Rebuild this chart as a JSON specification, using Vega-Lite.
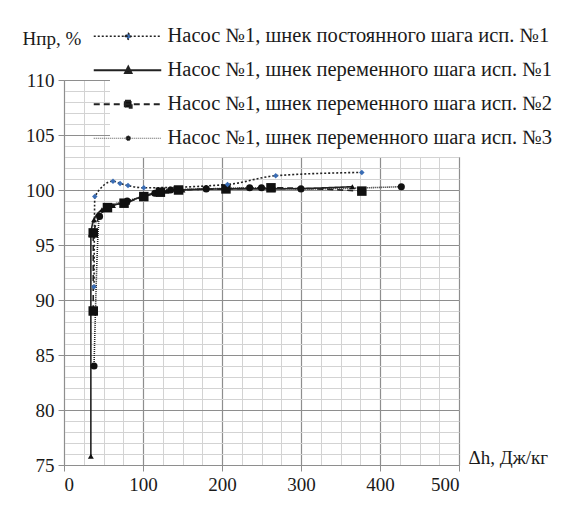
{
  "$schema": "https://vega.github.io/schema/vega-lite/v6.json",
  "autosize": {"type": "none"},
  "width": 395,
  "height": 385,
  "padding": {"left": 64, "top": 80, "right": 102, "bottom": 44},
  "background": "white",
  "config": {
    "view": {"stroke": null},
    "font": "Liberation Serif, DejaVu Serif, serif"
  },
  "data": {
    "values": [
      {"s": "A", "i": 1, "x": 38, "y": 91.2},
      {"s": "A", "i": 2, "x": 39, "y": 99.4},
      {"s": "A", "i": 3, "x": 62, "y": 100.8},
      {"s": "A", "i": 4, "x": 71, "y": 100.6},
      {"s": "A", "i": 5, "x": 81, "y": 100.4},
      {"s": "A", "i": 6, "x": 101, "y": 100.2},
      {"s": "A", "i": 7, "x": 207, "y": 100.5},
      {"s": "A", "i": 8, "x": 268, "y": 101.3},
      {"s": "A", "i": 9, "x": 377, "y": 101.6},
      {"s": "B", "i": 1, "x": 34, "y": 75.8},
      {"s": "B", "i": 2, "x": 34, "y": 96.0},
      {"s": "B", "i": 3, "x": 38, "y": 97.3},
      {"s": "B", "i": 4, "x": 48, "y": 98.2},
      {"s": "B", "i": 5, "x": 62, "y": 98.6},
      {"s": "B", "i": 6, "x": 80, "y": 98.9},
      {"s": "B", "i": 7, "x": 102, "y": 99.5},
      {"s": "B", "i": 8, "x": 130, "y": 99.9},
      {"s": "B", "i": 9, "x": 150, "y": 100.0},
      {"s": "B", "i": 10, "x": 205, "y": 100.1},
      {"s": "B", "i": 11, "x": 265, "y": 100.1},
      {"s": "B", "i": 12, "x": 365, "y": 100.3},
      {"s": "C", "i": 1, "x": 37, "y": 89.0},
      {"s": "C", "i": 2, "x": 37, "y": 96.1},
      {"s": "C", "i": 3, "x": 55, "y": 98.4},
      {"s": "C", "i": 4, "x": 76, "y": 98.8},
      {"s": "C", "i": 5, "x": 101, "y": 99.4},
      {"s": "C", "i": 6, "x": 122, "y": 99.8},
      {"s": "C", "i": 7, "x": 145, "y": 100.0},
      {"s": "C", "i": 8, "x": 205, "y": 100.1},
      {"s": "C", "i": 9, "x": 262, "y": 100.2},
      {"s": "C", "i": 10, "x": 377, "y": 99.9},
      {"s": "D", "i": 1, "x": 38, "y": 84.0},
      {"s": "D", "i": 2, "x": 45, "y": 97.6},
      {"s": "D", "i": 3, "x": 56, "y": 98.5},
      {"s": "D", "i": 4, "x": 80, "y": 99.0},
      {"s": "D", "i": 5, "x": 115, "y": 99.7},
      {"s": "D", "i": 6, "x": 135, "y": 100.0},
      {"s": "D", "i": 7, "x": 180, "y": 100.1},
      {"s": "D", "i": 8, "x": 235, "y": 100.2},
      {"s": "D", "i": 9, "x": 250, "y": 100.2},
      {"s": "D", "i": 10, "x": 300, "y": 100.1},
      {"s": "D", "i": 11, "x": 427, "y": 100.3}
    ]
  },
  "resolve": {"axis": {"x": "independent", "y": "independent"}},
  "layer": [
    {
      "mark": {"type": "line", "interpolate": "monotone", "color": "#222222", "strokeWidth": 1.6},
      "encoding": {
        "x": {
          "field": "x", "type": "quantitative",
          "scale": {"domain": [0, 500], "nice": false, "zero": false},
          "axis": {
            "orient": "bottom", "title": null, "labels": false, "ticks": false, "domain": false,
            "grid": true, "gridColor": "#d3d3d3", "gridWidth": 1,
            "values": [0,25,50,75,100,125,150,175,200,225,250,275,300,325,350,375,400,425,450,475,500]
          }
        },
        "y": {
          "field": "y", "type": "quantitative",
          "scale": {"domain": [75, 110], "nice": false, "zero": false},
          "axis": {
            "orient": "left", "title": null, "labels": false, "ticks": false, "domain": false,
            "grid": true, "gridColor": "#d3d3d3", "gridWidth": 1,
            "values": [75,76,77,78,79,80,81,82,83,84,85,86,87,88,89,90,91,92,93,94,95,96,97,98,99,100,101,102,103,104,105,106,107,108,109,110]
          }
        },
        "order": {"field": "i", "type": "quantitative"},
        "strokeDash": {
          "field": "s", "type": "nominal",
          "scale": {"domain": ["A", "B", "C", "D"], "range": [[2, 2], [1, 0], [6, 4], [1, 1]]},
          "legend": {
            "orient": "none",
            "legendX": 46,
            "legendY": -62,
            "title": null,
            "padding": 8,
            "fillColor": "white",
            "symbolType": "M-2.2,0H2.2",
            "symbolSize": 900,
            "symbolStrokeColor": "#222222",
            "symbolStrokeWidth": 1.5,
            "labelOffset": 29,
            "labelFont": "Liberation Serif, DejaVu Serif, serif",
            "labelFontSize": 20.5,
            "labelColor": "#1a1a1a",
            "labelLimit": 600,
            "rowPadding": 13,
            "labelExpr": "datum.value == 'A' ? 'Насос №1, шнек постоянного шага  исп. №1' : datum.value == 'B' ? 'Насос №1, шнек переменного шага  исп. №1' : datum.value == 'C' ? 'Насос №1, шнек переменного шага  исп. №2' : 'Насос №1, шнек переменного шага  исп. №3'",
            "encode": {
              "symbols": {
                "update": {
                  "shape": {"signal": "datum.value == 'A' ? 'M-2.3,0H2.2M-0.2,0L0,-0.2L0.2,0L0,0.2Z' : datum.value == 'B' ? 'M-2.3,0H2.2M-0.2,0.17L0,-0.22L0.2,0.17Z' : datum.value == 'C' ? 'M-2.3,0H2.2M-0.22,-0.22H0.22V0.22H-0.22Z' : 'M-2.3,0H2.2M-0.17,0L-0.12,-0.12L0,-0.17L0.12,-0.12L0.17,0L0.12,0.12L0,0.17L-0.12,0.12Z'"},
                  "fill": {"signal": "datum.value == 'A' ? '#3a6db5' : '#111111'"},
                  "fillOpacity": {"value": 1},
                  "strokeWidth": {"signal": "datum.value == 'A' ? 1.5 : datum.value == 'D' ? 1 : 2.2"},
                  "stroke": {"signal": "datum.value == 'D' ? '#555555' : '#222222'"}
                }
              }
            }
          }
        }
      }
    },
    {
      "transform": [{"filter": {"field": "s", "equal": "D"}}],
      "mark": {"type": "point", "filled": true, "opacity": 1, "shape": "circle", "color": "#111111", "size": 50},
      "encoding": {
        "x": {"field": "x", "type": "quantitative", "axis": null},
        "y": {"field": "y", "type": "quantitative", "axis": null}
      }
    },
    {
      "transform": [{"filter": {"field": "s", "equal": "C"}}],
      "mark": {"type": "point", "filled": true, "opacity": 1, "shape": "square", "color": "#111111", "size": 90},
      "encoding": {
        "x": {"field": "x", "type": "quantitative", "axis": null},
        "y": {"field": "y", "type": "quantitative", "axis": null}
      }
    },
    {
      "transform": [{"filter": {"field": "s", "equal": "B"}}],
      "mark": {"type": "point", "filled": true, "opacity": 1, "shape": "triangle-up", "color": "#111111", "size": 35},
      "encoding": {
        "x": {"field": "x", "type": "quantitative", "axis": null},
        "y": {"field": "y", "type": "quantitative", "axis": null}
      }
    },
    {
      "transform": [{"filter": {"field": "s", "equal": "A"}}],
      "mark": {"type": "point", "filled": true, "opacity": 1, "shape": "diamond", "color": "#3a6db5", "size": 30},
      "encoding": {
        "x": {
          "field": "x", "type": "quantitative",
          "axis": {
            "orient": "bottom", "values": [0, 100, 200, 300, 400, 500],
            "grid": true, "gridColor": "#8e8e8e", "gridWidth": 1.2,
            "domainColor": "#8e8e8e", "tickColor": "#8e8e8e", "tickSize": 6,
            "labelFont": "Liberation Serif, DejaVu Serif, serif", "labelFontSize": 19, "labelColor": "#1a1a1a", "labelPadding": 4,
            "title": "Δh, Дж/кг", "titleFont": "Liberation Serif, DejaVu Serif, serif", "titleFontSize": 19, "titleFontWeight": "normal",
            "titleColor": "#1a1a1a", "titleX": 404, "titleY": -8, "titleAlign": "left", "titleBaseline": "middle"
          }
        },
        "y": {
          "field": "y", "type": "quantitative",
          "axis": {
            "orient": "left", "values": [75, 80, 85, 90, 95, 100, 105, 110],
            "grid": true, "gridColor": "#8e8e8e", "gridWidth": 1.2,
            "domainColor": "#8e8e8e", "tickColor": "#8e8e8e", "tickSize": 6,
            "labelFont": "Liberation Serif, DejaVu Serif, serif", "labelFontSize": 19, "labelColor": "#1a1a1a", "labelPadding": 4,
            "title": "Hпр, %", "titleFont": "Liberation Serif, DejaVu Serif, serif", "titleFontSize": 19, "titleFontWeight": "normal",
            "titleColor": "#1a1a1a", "titleAngle": 0, "titleX": -42, "titleY": -42, "titleAlign": "left", "titleBaseline": "middle"
          }
        }
      }
    }
  ]
}
